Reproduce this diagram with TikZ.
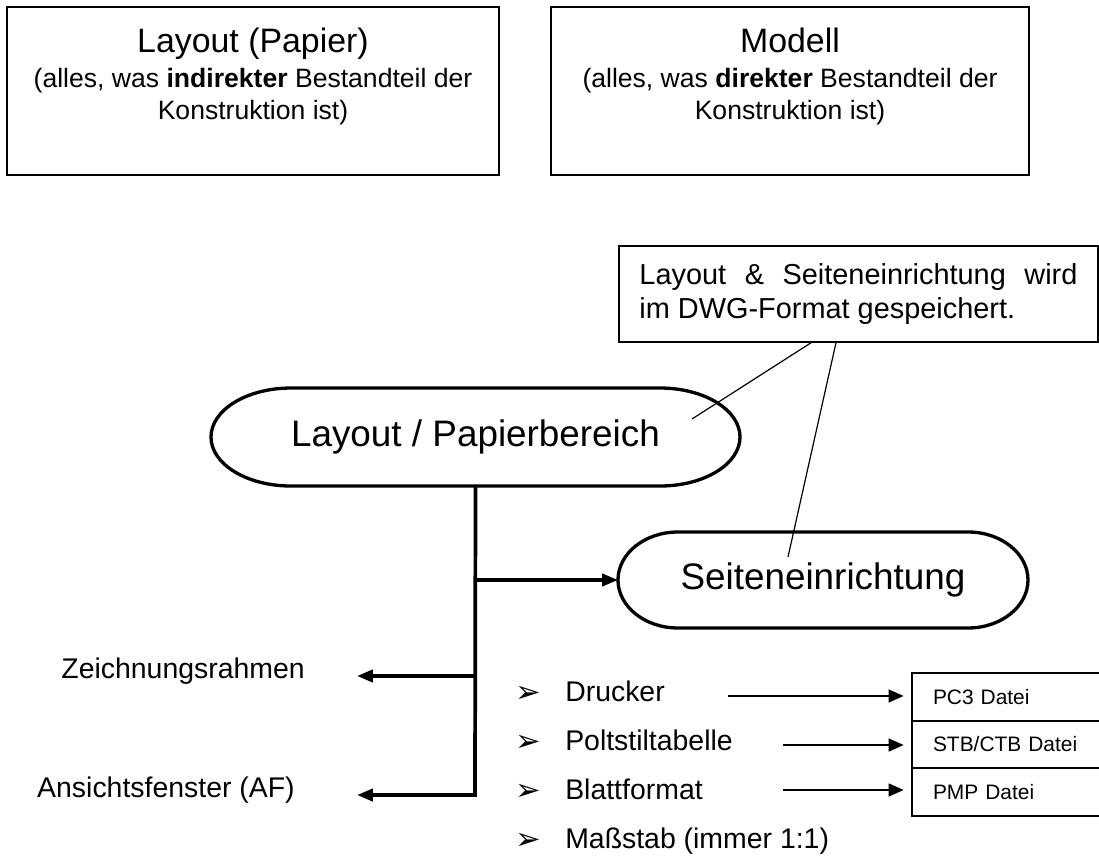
\documentclass[tikz,border=0pt]{standalone}
\usepackage{fontspec}
\setmainfont{Liberation Sans}
\newfontfamily\symfont{DejaVu Sans}
\usetikzlibrary{positioning}
\usetikzlibrary{arrows.meta}

\tikzset{
  topbox/.style={line width=1.2pt},
  pill/.style={inner sep=0pt, outer sep=0pt, font=\fontsize{27.75}{32}\selectfont},
  pillline/.style={line width=2.5pt},
  bigarrow/.style={line width=2.8pt, -{Triangle[length=0.42cm,width=0.32cm]}},
  smallarrow/.style={line width=1.5pt, shorten >=0.22cm, -{Triangle[length=0.4cm,width=0.34cm]}},
  thinline/.style={line width=0.9pt},
  filebox/.style={draw, line width=1.4pt, minimum height=1.257cm, text width=4.127cm, inner xsep=0.556cm, inner ysep=0pt, outer sep=0pt, align=left, font=\fontsize{15.75}{18}\selectfont},
  item/.style={anchor=base west, inner sep=0pt, font=\fontsize{21.4}{25}\selectfont},
  bullet/.style={anchor=base west, inner sep=0pt, font=\symfont\fontsize{23}{27}\selectfont},
  sidelabel/.style={anchor=base east, inner sep=0pt, font=\fontsize{21.4}{25}\selectfont},
}

\begin{document}
\begin{tikzpicture}
\useasboundingbox (0,0) rectangle (29.078,22.728);

% Kopfzeile: Layout und Modell
\draw[topbox] (0.185,18.098) rectangle (13.203,22.543);
\draw[topbox] (14.579,18.098) rectangle (27.226,22.543);
\node[anchor=north, align=center, inner sep=0pt, font=\fontsize{20}{24}\selectfont] (papier) at (6.694,21.987)
  {{\fontsize{25.5}{26}\selectfont Layout (Papier)}\\[2pt] (alles, was \textbf{indirekter} Bestandteil der\\ Konstruktion ist)};
\node[anchor=north, align=center, inner sep=0pt, font=\fontsize{20}{24}\selectfont] (modell) at (20.902,21.987)
  {{\fontsize{25.5}{26}\selectfont Modell}\\[2pt] (alles, was \textbf{direkter} Bestandteil der\\ Konstruktion ist)};

% Layout / Papierbereich
\node[pill, minimum width=13.997cm, minimum height=2.593cm] (lay) at (12.581,11.165) {Layout / Papierbereich};
\draw[pillline] ([xshift=2.117cm]lay.north west) -- ([xshift=-2.117cm]lay.north east)
  arc[start angle=90, end angle=-90, x radius=2.117cm, y radius=1.2965cm]
  -- ([xshift=2.117cm]lay.south west)
  arc[start angle=270, end angle=90, x radius=2.117cm, y radius=1.2965cm] -- cycle;

% Seiteneinrichtung
\node[pill, minimum width=10.848cm, minimum height=2.540cm] (seit) at (21.775,7.382) {Seiteneinrichtung};
\draw[pillline] ([xshift=1.587cm]seit.north west) -- ([xshift=-1.587cm]seit.north east)
  arc[start angle=90, end angle=-90, x radius=1.587cm, y radius=1.27cm]
  -- ([xshift=1.587cm]seit.south west)
  arc[start angle=270, end angle=90, x radius=1.587cm, y radius=1.27cm] -- cycle;

% Hinweis DWG
\node[draw, line width=1.2pt, text width=11.589cm, inner xsep=0.54cm, inner ysep=0pt, minimum height=2.540cm,
  align=justify, font=\fontsize{21.75}{26.25}\selectfont] (dwg) at (22.714,14.949)
  {Layout \& Seiteneinrichtung wird\linebreak im DWG-Format gespeichert.};
\coordinate (layhit) at (18.309,11.642);
\coordinate (seithit) at (20.849,7.990);
\draw[thinline] ([xshift=-1.257cm]dwg.south) -- (layhit);
\draw[thinline] ([xshift=-0.595cm]dwg.south) -- (seithit);

% Stamm und Abzweige
\coordinate (trunkend) at (12.568,1.693);
\coordinate (zrtip) at (9.446,4.842);
\coordinate (aftip) at (9.446,1.693);
\draw[bigarrow] (lay.south) -- (trunkend) -- (aftip);
\draw[bigarrow] (lay.south |- seit.west) -- (seit.west);
\draw[bigarrow] (lay.south |- zrtip) -- (zrtip);

\node[sidelabel] (zr) at (8.070,4.789) {Zeichnungsrahmen};
\node[sidelabel] (af) at (7.805,1.640) {Ansichtsfenster (AF)};

% Liste
\node[item] (drucker) at (14.949,4.180) {Drucker};
\node[item] (polt) at (14.949,2.884) {Poltstiltabelle};
\node[item] (blatt) at (14.949,1.587) {Blattformat};
\node[item] (massstab) at (14.949,0.291) {Maßstab (immer 1:1)};
\foreach \n in {drucker,polt,blatt,massstab}
  \node[bullet] (b-\n) at ([xshift=-1.323cm,yshift=-0.03cm]\n.base west) {➢};

% Dateien
\node[filebox] (pc3) at (26.750,4.286) {PC3 Datei};
\node[filebox, below=0pt of pc3] (stb) {STB/CTB Datei};
\node[filebox, below=0pt of stb] (pmp) {PMP Datei};

\coordinate (a-drucker) at (19.262,4.313);
\coordinate (a-polt) at (20.717,3.016);
\coordinate (a-blatt) at (20.717,1.826);
\draw[smallarrow] (a-drucker) -- (a-drucker -| pc3.west);
\draw[smallarrow] (a-polt) -- (a-polt -| stb.west);
\draw[smallarrow] (a-blatt) -- (a-blatt -| pmp.west);

\end{tikzpicture}
\end{document}
